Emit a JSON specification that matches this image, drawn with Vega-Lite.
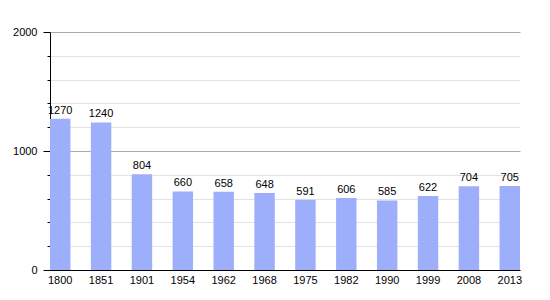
{
  "$schema": "https://vega.github.io/schema/vega-lite/v6.json",
  "width": 470,
  "height": 238,
  "autosize": "none",
  "padding": {"left": 50, "top": 32, "right": 30, "bottom": 30},
  "background": "white",
  "config": {
    "view": {"stroke": null},
    "font": "Liberation Sans",
    "axis": {"labelFont": "Liberation Sans", "labelFontSize": 11, "labelColor": "#000"}
  },
  "data": {
    "values": [
      {"year": "1800", "pop": 1270},
      {"year": "1851", "pop": 1240},
      {"year": "1901", "pop": 804},
      {"year": "1954", "pop": 660},
      {"year": "1962", "pop": 658},
      {"year": "1968", "pop": 648},
      {"year": "1975", "pop": 591},
      {"year": "1982", "pop": 606},
      {"year": "1990", "pop": 585},
      {"year": "1999", "pop": 622},
      {"year": "2008", "pop": 704},
      {"year": "2013", "pop": 705}
    ]
  },
  "encoding": {
    "x": {
      "field": "year", "type": "ordinal", "sort": null,
      "scale": {"paddingInner": 0.5, "paddingOuter": 0},
      "axis": {"title": null, "labelAngle": 0, "ticks": false, "domainColor": "#000", "domainWidth": 1, "labelPadding": 4}
    },
    "y": {
      "field": "pop", "type": "quantitative",
      "scale": {"domain": [0, 2000], "nice": false},
      "axis": {
        "title": null,
        "values": [0, 200, 400, 600, 800, 1000, 1200, 1400, 1600, 1800, 2000],
        "format": "d",
        "labelExpr": "datum.value % 1000 === 0 ? datum.label : ''",
        "domainColor": "#000",
        "tickColor": "#000",
        "tickSize": {"condition": {"test": "datum.value % 1000 === 0", "value": 7}, "value": 3},
        "labelPadding": 6,
        "gridColor": {"condition": {"test": "datum.value % 1000 === 0", "value": "#aaaaaa"}, "value": "#e3e3e3"},
        "grid": true
      }
    }
  },
  "layer": [
    {"mark": {"type": "bar", "color": "#9daefb"}},
    {
      "mark": {"type": "text", "baseline": "bottom", "dy": -3, "fontSize": 11, "color": "#000"},
      "encoding": {"text": {"field": "pop", "type": "quantitative"}}
    }
  ]
}
